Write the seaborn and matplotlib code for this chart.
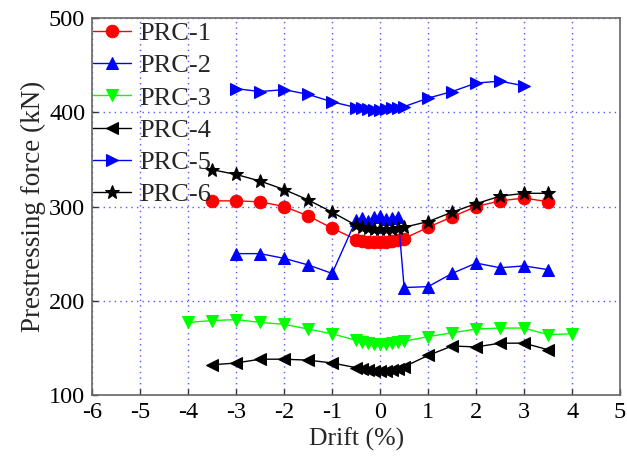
import matplotlib
matplotlib.use("Agg")
import matplotlib.pyplot as plt
import seaborn as sns
import pandas as pd

sns.set_theme(style="white")
plt.rcParams['font.family'] = ['Liberation Serif', 'DejaVu Serif']
plt.rcParams['mathtext.fontset'] = 'stix'

series_names = ["PRC-1", "PRC-2", "PRC-3", "PRC-4", "PRC-5", "PRC-6"]

prc1_x = [-3.5, -3, -2.5, -2, -1.5, -1, -0.5, -0.375, -0.25, -0.125, 0, 0.125, 0.25, 0.375, 0.5, 1, 1.5, 2, 2.5, 3, 3.5]
prc1_y = [306, 306, 305, 300, 290, 277, 265, 263, 262, 262, 262, 262, 263, 264, 266, 278, 289, 300, 306, 309, 305]

prc2_x = [-3, -2.5, -2, -1.5, -1, -0.5, -0.375, -0.25, -0.125, 0, 0.125, 0.25, 0.375, 0.5, 1, 1.5, 2, 2.5, 3, 3.5]
prc2_y = [250, 250, 245, 238, 229, 286, 288, 285, 289, 290, 287, 288, 289, 214, 215, 229, 240, 235, 237, 233]

prc3_x = [-4, -3.5, -3, -2.5, -2, -1.5, -1, -0.5, -0.375, -0.25, -0.125, 0, 0.125, 0.25, 0.375, 0.5, 1, 1.5, 2, 2.5, 3, 3.5, 4]
prc3_y = [177, 179, 180, 177, 175, 170, 165, 158, 156, 155, 154, 154, 154, 155, 156, 157, 162, 166, 170, 171, 171, 164, 165]

prc4_x = [-3.5, -3, -2.5, -2, -1.5, -1, -0.5, -0.375, -0.25, -0.125, 0, 0.125, 0.25, 0.375, 0.5, 1, 1.5, 2, 2.5, 3, 3.5]
prc4_y = [132, 134, 138, 138, 137, 134, 129, 128, 127, 126, 125, 126, 127, 128, 130, 142, 152, 151, 155, 155, 148]

prc5_x = [-3, -2.5, -2, -1.5, -1, -0.5, -0.375, -0.25, -0.125, 0, 0.125, 0.25, 0.375, 0.5, 1, 1.5, 2, 2.5, 3]
prc5_y = [425, 422, 424, 419, 411, 405, 404, 403, 402, 402, 403, 404, 405, 406, 415, 422, 431, 433, 428]

prc6_x = [-3.5, -3, -2.5, -2, -1.5, -1, -0.5, -0.375, -0.25, -0.125, 0, 0.125, 0.25, 0.375, 0.5, 1, 1.5, 2, 2.5, 3, 3.5]
prc6_y = [339, 334, 327, 318, 307, 294, 280, 278, 277, 276, 276, 276, 276, 277, 278, 284, 294, 303, 311, 314, 314]

x_ticks = [-6, -5, -4, -3, -2, -1, 0, 1, 2, 3, 4, 5]
y_ticks = [100, 200, 300, 400, 500]

all_x = [prc1_x, prc2_x, prc3_x, prc4_x, prc5_x, prc6_x]
all_y = [prc1_y, prc2_y, prc3_y, prc4_y, prc5_y, prc6_y]
colors = ["#ff0000", "#0000ff", "#00ff00", "#000000", "#0000ff", "#000000"]
markers = ["o", "^", "v", "<", ">", "*"]
msizes = [9, 9, 9, 9, 9, 10]

fig = plt.figure(figsize=(6.27, 4.62), dpi=100)
ax = fig.add_axes([0.147, 0.145, 0.842, 0.816])

for name, xs, ys, c, m, ms in zip(series_names, all_x, all_y, colors, markers, msizes):
    df = pd.DataFrame({"x": xs, "y": ys})
    sns.lineplot(data=df, x="x", y="y", ax=ax, color=c, marker=m, markersize=ms,
                 markeredgecolor=c, markerfacecolor=c, linewidth=1.0, sort=False,
                 label=name, estimator=None)

ax.set_xlim(-6, 5)
ax.set_ylim(100, 500)
ax.set_xticks(x_ticks)
ax.set_yticks(y_ticks)
ax.set_xticklabels([str(t) for t in x_ticks])
ax.set_yticklabels([str(t) for t in y_ticks])
ax.grid(True, color="#5555ff", linestyle=(0, (1, 3)), linewidth=1.0)
ax.tick_params(direction="in", length=4, width=1, colors="#333333", labelsize=17.5,
               labelcolor="black", bottom=True, left=True, pad=5)
for s in ax.spines.values():
    s.set_color("#666666")
    s.set_linewidth(1.2)

ax.set_xlabel("Drift (%)", fontsize=18.5, labelpad=3)
ax.set_ylabel("Prestressing force (kN)", fontsize=19.5, labelpad=2)

leg = ax.legend(loc="upper left", frameon=False, fontsize=19, borderpad=0.0,
                borderaxespad=0.0, bbox_to_anchor=(0.002, 0.99),
                labelspacing=0.33, handlelength=1.45, handletextpad=0.3)

fig.savefig("out.png", dpi=100)
